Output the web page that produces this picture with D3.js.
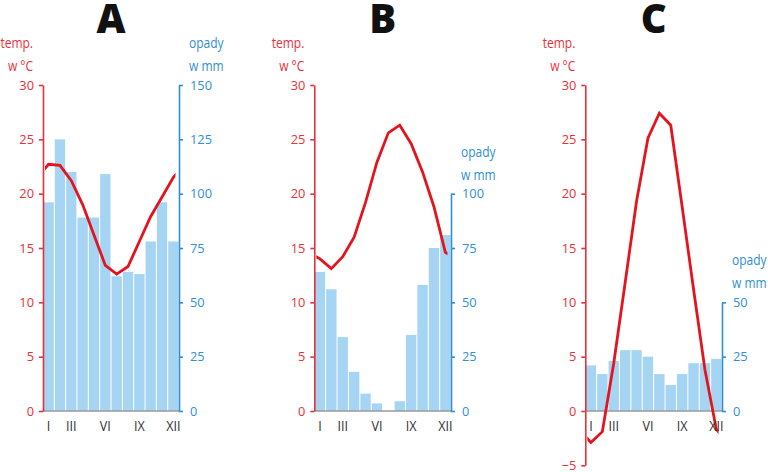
<!DOCTYPE html>
<html>
<head>
<meta charset="utf-8">
<script src="https://cdn.jsdelivr.net/npm/d3@7"></script>
<style>
  html, body { margin: 0; padding: 0; background: #fff; }
  svg { display: block; }
  text { font-family: "Open Sans", "Noto Sans", sans-serif; }
</style>
</head>
<body>
<svg id="chart" width="768" height="472"></svg>
<script>
// months (Roman numerals), which of them get a label
const months = ["I", "II", "III", "IV", "V", "VI", "VII", "VIII", "IX", "X", "XI", "XII"];
const monthLabels = ["I", "III", "VI", "IX", "XII"];

// A
const tempA = [22.7, 22.6, 21.2, 19.0, 16.2, 13.4, 12.6, 13.3, 15.6, 17.9, 19.7, 21.5];
const precipA = [96, 125, 110, 89, 89, 109, 62, 64, 63, 78, 96, 78];
const tempTicksA = [0, 5, 10, 15, 20, 25, 30];
const precipTicksA = [0, 25, 50, 75, 100, 125, 150];

// B
const tempB = [14.0, 13.1, 14.2, 16.0, 19.2, 22.9, 25.6, 26.3, 24.6, 22.0, 18.8, 14.6];
const precipB = [64, 56, 34, 18, 8, 3.5, 0, 4.5, 35, 58, 75, 81];
const tempTicksB = [0, 5, 10, 15, 20, 25, 30];
const precipTicksB = [0, 25, 50, 75, 100];

// C
const tempC = [-2.9, -1.9, 4.4, 11.8, 19.3, 25.1, 27.4, 26.3, 18.8, 11.2, 3.8, -1.7];
const precipC = [21, 17, 23, 28, 28, 25, 17, 12, 17, 22, 22, 24];
const tempTicksC = [-5, 0, 5, 10, 15, 20, 25, 30];
const precipTicksC = [0, 25, 50];

const RED = "#e8303a", LINE = "#e4141e", BLUE = "#2e8fd6", BAR = "#a6d5f4";
const GREY = "#9a9a9a", INK = "#333";
// no condensed face installed: squeeze text horizontally
const SX = 0.8, SX_TICK = 0.95, SX_MONTH = 0.9;

const svg = d3.select("#chart");
const Y0 = 411, Y30 = 85;          // pixel rows of 0 and 30 degrees
const pxPerDeg = (Y0 - Y30) / 30;   // 1 degree = 5 mm on every panel
const pxPerMm = pxPerDeg / 5;

// text placed at (x, y) and condensed
function label(parent, x, y, str, sx = SX) {
  return parent.append("text")
    .attr("transform", `translate(${x},${y}) scale(${sx},1)`).text(str);
}
function squeezeTicks(g) {
  g.selectAll(".tick text").each(function () {
    const t = d3.select(this);
    t.attr("x", +t.attr("x") / SX_TICK).attr("transform", `scale(${SX_TICK},1)`);
  });
}

const panels = [
  { name: "A", x0: 43, x1: 179, temp: tempA, precip: precipA, tTicks: tempTicksA, pTicks: precipTicksA },
  { name: "B", x0: 314.3, x1: 451, temp: tempB, precip: precipB, tTicks: tempTicksB, pTicks: precipTicksB },
  { name: "C", x0: 585.3, x1: 722, temp: tempC, precip: precipC, tTicks: tempTicksC, pTicks: precipTicksC },
];

panels.forEach((p, k) => {
  const g = svg.append("g");
  const tMin = d3.min(p.tTicks), tMax = d3.max(p.tTicks);
  const pMax = d3.max(p.pTicks);

  const x = d3.scaleBand().domain(months).range([p.x0, p.x1]).paddingInner(0.09).paddingOuter(0.04);
  const yT = d3.scaleLinear().domain([tMin, tMax]).range([Y0 - tMin * pxPerDeg, Y30]);
  const yP = d3.scaleLinear().domain([0, pMax]).range([Y0, Y0 - pMax * pxPerMm]);

  // bars
  g.append("g").selectAll("rect").data(p.precip).join("rect")
    .attr("x", (d, i) => x(months[i])).attr("width", x.bandwidth())
    .attr("y", d => yP(d)).attr("height", d => yP(0) - yP(d))
    .attr("fill", BAR);

  // baseline
  g.append("line").attr("x1", p.x0).attr("x2", p.x1).attr("y1", Y0).attr("y2", Y0)
    .attr("stroke", GREY).attr("stroke-width", 1.5);

  // temperature line, drawn as a yearly cycle (Dec before Jan, Jan after Dec) and clipped
  const step = x.step();
  const cx = i => x(months[0]) + x.bandwidth() / 2 + i * step;
  const cyc = [[-1, p.temp[11]]].concat(p.temp.map((v, i) => [i, v]), [[12, p.temp[0]]]);
  svg.append("clipPath").attr("id", "clip" + k).append("rect")
    .attr("x", p.x0 + 2).attr("width", p.x1 - p.x0 - 5.5).attr("y", 0).attr("height", 472);
  g.append("path").attr("clip-path", `url(#clip${k})`)
    .attr("fill", "none").attr("stroke", LINE).attr("stroke-width", 2.8)
    .attr("d", d3.line().x(d => cx(d[0])).y(d => yT(d[1]))(cyc));

  // left axis (temperature)
  const gl = g.append("g").attr("transform", `translate(${p.x0},0)`)
    .call(d3.axisLeft(yT).tickValues(p.tTicks).tickSize(4).tickSizeOuter(0).tickPadding(5));
  gl.attr("font-family", null).attr("font-size", 13.5);
  gl.select(".domain").attr("stroke", RED).attr("stroke-width", 1.6);
  gl.selectAll(".tick line").attr("stroke", RED).attr("stroke-width", 1.6);
  gl.selectAll(".tick text").attr("fill", RED);
  squeezeTicks(gl);

  // right axis (precipitation)
  const gr = g.append("g").attr("transform", `translate(${p.x1},0)`)
    .call(d3.axisRight(yP).tickValues(p.pTicks).tickSize(4).tickSizeOuter(0).tickPadding(7));
  gr.attr("font-family", null).attr("font-size", 13.5);
  gr.select(".domain").attr("stroke", BLUE).attr("stroke-width", 1.6);
  gr.selectAll(".tick line").attr("stroke", BLUE).attr("stroke-width", 1.6);
  gr.selectAll(".tick text").attr("fill", BLUE);
  squeezeTicks(gr);

  // month labels
  const ml = g.append("g").attr("font-size", 14).attr("fill", INK).attr("text-anchor", "middle");
  monthLabels.forEach(m => label(ml, x(m) + x.bandwidth() / 2, 430.5, m, SX_MONTH));

  // axis titles
  const tTop = yT(tMax), pTop = yP(pMax);
  const tl = g.append("g").attr("fill", RED).attr("font-size", 15).attr("text-anchor", "end");
  label(tl, p.x0 - 10, tTop - 37, "temp.");
  label(tl, p.x0 - 10, tTop - 14, "w °C");
  const pl = g.append("g").attr("fill", BLUE).attr("font-size", 15);
  label(pl, p.x1 + 10, pTop - 37, "opady");
  label(pl, p.x1 + 10, pTop - 14, "w mm");

  // panel letter
  g.append("text").attr("x", (p.x0 + p.x1) / 2).attr("y", 33)
    .attr("text-anchor", "middle")
    .attr("font-weight", 800).attr("font-size", 40).attr("fill", "#111").text(p.name);
});
</script>
</body>
</html>
